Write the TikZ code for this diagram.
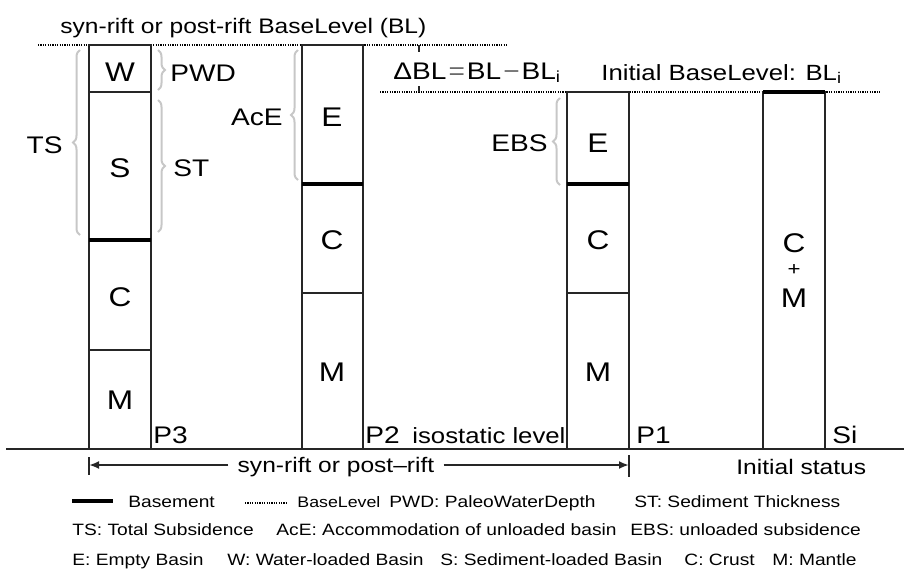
\documentclass[tikz,border=0pt]{standalone}
\usepackage{fontspec}
\setmainfont{Liberation Sans}[FakeStretch=1.17]
\usetikzlibrary{decorations.pathreplacing,arrows.meta}

\begin{document}
\begin{tikzpicture}[x=0.5pt,y=-0.5pt,
	col/.style={line width=1pt, draw=black!85},
	basement/.style={line width=2.3pt, draw=black},
	baselevel/.style={line width=1.2pt, dash pattern=on 0.6pt off 0.6pt},
	gbrace/.style={draw=black!22, line width=1pt, decorate, decoration={brace,amplitude=3.5pt}},
	lab/.style={inner sep=0pt, font=\fontsize{12}{14}\selectfont},
	big/.style={lab, font=\fontsize{13.5}{15}\selectfont},
	leg/.style={inner sep=0pt, anchor=base west, font=\fontsize{8.2}{10}\selectfont}]
	\useasboundingbox (0,0) rectangle (904,569);

	\draw[baselevel] (38,45) -- (508,45);
	\draw[baselevel] (380,92) -- (880,92);
	\node[lab, anchor=base west, font=\fontsize{10.5}{12}\selectfont] (bltitle) at (60,33) {syn-rift or post-rift BaseLevel (BL)};
	\node[lab, anchor=base west, font=\fontsize{12}{14}\selectfont] (dbl) at (393,79) {ΔBL\kern1pt{\color{black!60}=}\kern1ptBL\kern1pt{\color{black!60}−}\kern1ptBL\textsubscript{i}};
	\node[lab, anchor=base west, font=\fontsize{11}{13}\selectfont] (blini) at (601,80) {Initial BaseLevel: BL\textsubscript{i}};
	\draw[col, line width=0.8pt] (419,45) -- (419,52);
	\draw[col, line width=0.8pt] (419,86) -- (419,92);

	\draw[col] (89,45) rectangle (151,449);
	\draw[col] (89,92) -- (151,92);
	\draw[col] (89,350) -- (151,350);
	\draw[basement] (89,240) -- (151,240);
	\node[big] (w3) at (120,72) {W};
	\node[big] (s3) at (120,168) {S};
	\node[big] (c3) at (120,297) {C};
	\node[big] (m3) at (120,400) {M};

	\draw[col] (302,45) rectangle (363,449);
	\draw[col] (302,293) -- (363,293);
	\draw[basement] (302,184) -- (363,184);
	\node[big] (e2) at (332,117) {E};
	\node[big] (c2) at (332,240) {C};
	\node[big] (m2) at (332,372) {M};

	\draw[col] (567,92) rectangle (629,449);
	\draw[col] (567,293) -- (629,293);
	\draw[basement] (567,184) -- (629,184);
	\node[big] (e1) at (598,143) {E};
	\node[big] (c1) at (598,240) {C};
	\node[big] (m1) at (598,372) {M};

	\draw[col] (763,92) rectangle (825,449);
	\draw[basement] (763,92) -- (825,92);
	\node[big] (ci) at (794,243) {C};
	\node[lab, font=\fontsize{9.5}{10}\selectfont] (pi) at (794,270) {+};
	\node[big] (mi) at (794,298) {M};

	\draw[gbrace] (80,235) -- (80,50);
	\draw[gbrace] (158,50) -- (158,90);
	\draw[gbrace] (158,100) -- (158,232);
	\draw[gbrace] (298,180) -- (298,50);
	\draw[gbrace] (560,185) -- (560,98);
	\node[lab, anchor=east] (ts) at (63,145) {TS};
	\node[lab, anchor=west] (pwd) at (170,73) {PWD};
	\node[lab, anchor=west] (st) at (173,168) {ST};
	\node[lab, anchor=east] (ace) at (283,117) {AcE};
	\node[lab, anchor=east] (ebs) at (548,143) {EBS};

	\draw[line width=1.4pt, draw=black!85] (6,449) -- (904,449);
	\node[lab, anchor=base west] (p3) at (153,443) {P3};
	\node[lab, anchor=base west] (p2) at (365,443) {P2};
	\node[lab, anchor=base west, font=\fontsize{11}{12}\selectfont] (iso) at (412,443) {isostatic level};
	\node[lab, anchor=base west] (p1) at (636,443) {P1};
	\node[lab, anchor=base west] (si) at (832,443) {Si};

	\coordinate (arrl) at (89,465);
	\coordinate (arrr) at (629,465);
	\draw[col] (89,457) -- (89,475);
	\draw[col] (629,455) -- (629,477);
	\node[lab, anchor=base, inner xsep=4.5pt, font=\fontsize{10.5}{12}\selectfont] (synpost) at (336,472) {syn-rift or post–rift};
	\draw[col, -{Latex[length=5pt,width=4pt]}] (synpost.west |- arrl) -- (arrl);
	\draw[col, -{Latex[length=5pt,width=4pt]}] (synpost.east |- arrr) -- (arrr);
	\node[lab, anchor=base west, font=\fontsize{10.5}{12}\selectfont] (inistat) at (736,474) {Initial status};

	\draw[basement] (72,501) -- (113,501);
	\node[leg] (lgb) at (128,507) {Basement};
	\draw[baselevel] (245,503) -- (287,503);
	\node[leg, font=\fontsize{7.6}{10}\selectfont] (lgl) at (297,507) {BaseLevel};
	\node[leg] (lgpwd) at (389,507) {PWD: PaleoWaterDepth};
	\node[leg] (lgst) at (634,507) {ST: Sediment Thickness};
	\node[leg] (lgts) at (72,535) {TS: Total Subsidence};
	\node[leg] (lgace) at (276,535) {AcE: Accommodation of unloaded basin};
	\node[leg] (lgebs) at (630,535) {EBS: unloaded subsidence};
	\node[leg] (lge) at (72,565) {E: Empty Basin};
	\node[leg] (lgw) at (227,565) {W: Water-loaded Basin};
	\node[leg] (lgs) at (440,565) {S: Sediment-loaded Basin};
	\node[leg] (lgc) at (684,565) {C: Crust};
	\node[leg] (lgm) at (772,565) {M: Mantle};
\end{tikzpicture}
\end{document}
